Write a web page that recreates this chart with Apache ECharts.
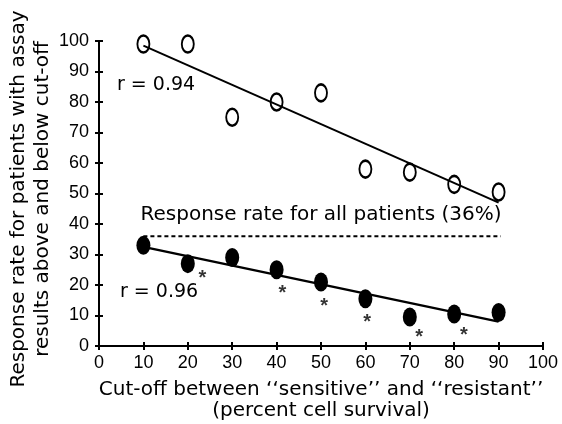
<!DOCTYPE html>
<html>
<head>
<meta charset="utf-8">
<script src="https://cdn.jsdelivr.net/npm/echarts@6/dist/echarts.min.js"></script>
<style>
  html, body { margin: 0; padding: 0; background: #fff; }
  #chart { width: 562px; height: 424px; }
</style>
</head>
<body>
<div id="chart"></div>
<script>
// values
const cutoffs = [10, 20, 30, 40, 50, 60, 70, 80, 90];
const aboveRates = [99, 99, 75, 80, 83, 58, 57, 53, 50.5];   // open circles
const belowRates = [33, 27, 29, 25, 21, 15.5, 9.5, 10.5, 11]; // filled circles
const upperFit = [[10, 98.5], [90, 47]];
const lowerFit = [[10, 32.5], [90, 8]];
const allPatients = 36;
const asterisks = [[23.3, 23.5], [41.3, 18.5], [50.7, 14.4], [60.4, 9], [72.1, 4], [82.2, 4.9]];

const font = 'Liberation Sans, Arial, sans-serif';
const wide = '"DejaVu Sans", sans-serif';
const chart = echarts.init(document.getElementById('chart'));

const baseAxis = {
    min: 0, max: 100, interval: 10,
    splitLine: { show: false }
};

chart.setOption({
    animation: false,
    grid: { left: 99, right: 19, top: 41, bottom: 78 },
    xAxis: [
        {
            ...baseAxis, type: 'value',
            axisLine: { lineStyle: { color: '#000', width: 2 } },
            axisTick: { length: 4, lineStyle: { color: '#000', width: 2 } },
            axisLabel: { color: '#000', fontSize: 18, fontFamily: font, margin: 8 }
        },
        {
            ...baseAxis, type: 'value', position: 'bottom',
            axisLine: { show: false },
            axisTick: { inside: true, length: 4, lineStyle: { color: '#000', width: 2 } },
            axisLabel: { show: false }
        }
    ],
    yAxis: [
        {
            ...baseAxis, type: 'value',
            axisLine: { show: true, lineStyle: { color: '#000', width: 2 } },
            axisTick: { show: true, length: 4, lineStyle: { color: '#000', width: 2 } },
            axisLabel: { color: '#000', fontSize: 18, fontFamily: font, margin: 10 }
        },
        {
            ...baseAxis, type: 'value', position: 'left',
            axisLine: { show: false },
            axisTick: { show: true, inside: true, length: 4, lineStyle: { color: '#000', width: 2 } },
            axisLabel: { show: false }
        }
    ],
    graphic: [
        {
            type: 'text', x: 31, y: 199, rotation: Math.PI / 2,
            style: {
                text: 'Response rate for patients with assay\nresults above and below cut-off',
                font: '20px ' + wide, fill: '#000',
                align: 'center', verticalAlign: 'middle', lineHeight: 24
            }
        },
        {
            type: 'text', x: 321, y: 400,
            style: {
                text: 'Cut-off between ‘‘sensitive’’ and ‘‘resistant’’\n(percent cell survival)',
                font: '20px ' + wide, fill: '#000',
                align: 'center', verticalAlign: 'middle', lineHeight: 21
            }
        },
        {
            type: 'text', x: 117, y: 85,
            style: { text: 'r = 0.94', font: '19px ' + wide, fill: '#000', verticalAlign: 'middle' }
        },
        {
            type: 'text', x: 120, y: 292,
            style: { text: 'r = 0.96', font: '19px ' + wide, fill: '#000', verticalAlign: 'middle' }
        },
        {
            type: 'text', x: 321, y: 215,
            style: {
                text: 'Response rate for all patients (36%)',
                font: '20px ' + wide, fill: '#000', align: 'center', verticalAlign: 'middle'
            }
        }
    ],
    series: [
        {
            type: 'line', data: upperFit, symbol: 'none', silent: true,
            lineStyle: { color: '#000', width: 2 }
        },
        {
            type: 'line', data: lowerFit, symbol: 'none', silent: true,
            lineStyle: { color: '#000', width: 2.5 }
        },
        {
            type: 'line', data: [[10, allPatients], [90.5, allPatients]], symbol: 'none', silent: true,
            lineStyle: { color: '#000', width: 2, type: [4, 3] }
        },
        {
            type: 'scatter', data: cutoffs.map((c, i) => [c, aboveRates[i]]),
            symbol: 'circle', symbolSize: [12, 17],
            itemStyle: { color: '#fff', borderColor: '#000', borderWidth: 2.2, opacity: 1 }
        },
        {
            type: 'scatter', data: cutoffs.map((c, i) => [c, belowRates[i]]),
            symbol: 'circle', symbolSize: [14, 19],
            itemStyle: { color: '#000', opacity: 1 }
        },
        {
            type: 'scatter', data: asterisks, symbolSize: 0,
            label: {
                show: true, position: 'inside', formatter: '*',
                color: '#000', fontSize: 20, fontWeight: 'bold', fontFamily: font,
                offset: [0, 4]
            }
        }
    ]
});
</script>
</body>
</html>
